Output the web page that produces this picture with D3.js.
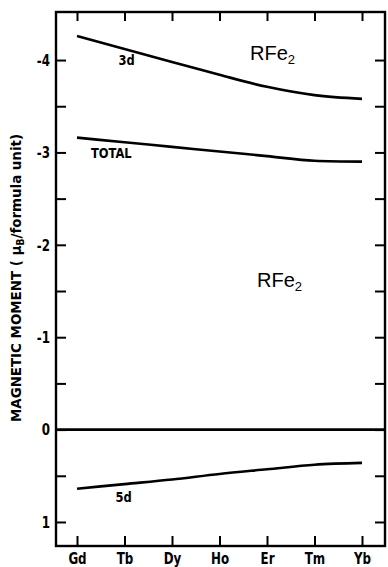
<!DOCTYPE html>
<html>
<head>
<meta charset="utf-8">
<script src="https://cdn.jsdelivr.net/npm/d3@7"></script>
<style>
  body { margin: 0; background: #fff; }
  svg { display: block; }
  .lbl { font-family: "DejaVu Sans Condensed", "DejaVu Sans", sans-serif; font-weight: bold; fill: #000; }
  .rfe { font-family: "Liberation Sans", Arial, sans-serif; fill: #000; }
</style>
</head>
<body>
<div id="chart"></div>
<script>
// rare earths along the x axis
const elements = ['Gd', 'Tb', 'Dy', 'Ho', 'Er', 'Tm', 'Yb'];

// moments in muB per formula unit
const moment3d = [-4.26, -4.12, -3.98, -3.84, -3.71, -3.62, -3.58];
const momentTotal = [-3.16, -3.11, -3.06, -3.01, -2.96, -2.91, -2.90];
const moment5d = [0.64, 0.59, 0.54, 0.48, 0.43, 0.38, 0.36];

const majorTicks = [-4, -3, -2, -1, 0, 1];
const minorTicks = [-3.5, -2.5, -1.5, -0.5, 0.5];

const width = 388, height = 567;
const margin = {left: 56, right: 385, top: 12, bottom: 546};

const svg = d3.select('#chart')
    .append('svg')
    .attr('width', width)
    .attr('height', height);

const x = d3.scalePoint()
    .domain(elements)
    .range([77, 362]);

const y = d3.scaleLinear()
    .domain([-4.52, 1.26])
    .range([margin.top, margin.bottom]);

// left axis, ticks pointing inward
const yAxis = svg.append('g')
    .attr('transform', `translate(${margin.left},0)`)
    .call(d3.axisLeft(y).tickValues(majorTicks).tickSize(-10).tickPadding(6)
        .tickFormat(d => d < 0 ? '-' + Math.abs(d) : String(d)));
yAxis.select('.domain').remove();
yAxis.selectAll('text')
    .attr('class', 'lbl')
    .attr('font-size', 15)
    .attr('dy', '0.36em')
    .attr('transform', 'translate(-6,0) scale(0.88,1) translate(6,0)');

svg.append('g')
    .attr('transform', `translate(${margin.left},0)`)
    .call(d3.axisLeft(y).tickValues(minorTicks).tickSize(-10).tickFormat(''))
    .select('.domain').remove();

// right axis
svg.append('g')
    .attr('transform', `translate(${margin.right},0)`)
    .call(d3.axisRight(y).tickValues(majorTicks.concat(minorTicks)).tickSize(-10).tickFormat(''))
    .select('.domain').remove();

// bottom axis
const xAxis = svg.append('g')
    .attr('transform', `translate(0,${margin.bottom})`)
    .call(d3.axisBottom(x).tickSize(-10).tickPadding(7));
xAxis.select('.domain').remove();
xAxis.selectAll('text')
    .attr('class', 'lbl')
    .attr('font-size', 15)
    .attr('transform', 'scale(0.88,1)');

// top axis
svg.append('g')
    .attr('transform', `translate(0,${margin.top})`)
    .call(d3.axisTop(x).tickSize(-9).tickFormat(''))
    .select('.domain').remove();

svg.selectAll('.tick line')
    .attr('stroke', '#000')
    .attr('stroke-width', 2);

// frame
svg.append('rect')
    .attr('x', margin.left)
    .attr('y', margin.top)
    .attr('width', margin.right - margin.left)
    .attr('height', margin.bottom - margin.top)
    .attr('fill', 'none')
    .attr('stroke', '#000')
    .attr('stroke-width', 2.4);

// zero line
svg.append('line')
    .attr('x1', margin.left).attr('x2', margin.right)
    .attr('y1', y(0)).attr('y2', y(0))
    .attr('stroke', '#000')
    .attr('stroke-width', 2.6);

const line = d3.line()
    .x((d, i) => x(elements[i]))
    .y(d => y(d))
    .curve(d3.curveMonotoneX);

[moment3d, momentTotal, moment5d].forEach(s => {
  svg.append('path')
      .attr('d', line(s))
      .attr('fill', 'none')
      .attr('stroke', '#000')
      .attr('stroke-width', 2.6);
});

// curve labels
function curveLabel(txt, xp, yp) {
  svg.append('text').attr('class', 'lbl').attr('font-size', 14.5)
      .attr('transform', `translate(${xp},${yp}) scale(0.88,1)`)
      .text(txt);
}
curveLabel('3d', x('Tb') - 6, y(-3.95));
curveLabel('TOTAL', x('Gd') + 14, y(-2.94));
curveLabel('5d', x('Tb') - 9, y(0.78));

// compound labels
function rfe(xp, yp) {
  const t = svg.append('text').attr('class', 'rfe').attr('font-size', 20)
      .attr('x', xp).attr('y', yp);
  t.append('tspan').text('RFe');
  t.append('tspan').attr('font-size', 13).attr('dy', 4).text('2');
}
rfe(250, 60);
rfe(257, 287);

// y axis title
const title = svg.append('text')
    .attr('class', 'lbl')
    .attr('font-size', 14)
    .attr('transform', 'translate(21,278) rotate(-90)')
    .attr('text-anchor', 'middle')
    .attr('textLength', 288)
    .attr('lengthAdjust', 'spacingAndGlyphs');
title.append('tspan').text('MAGNETIC MOMENT ( \u03BC');
title.append('tspan').attr('font-size', 10).attr('dy', 3).text('B');
title.append('tspan').attr('dy', -3).text('/formula unit)');
</script>
</body>
</html>
